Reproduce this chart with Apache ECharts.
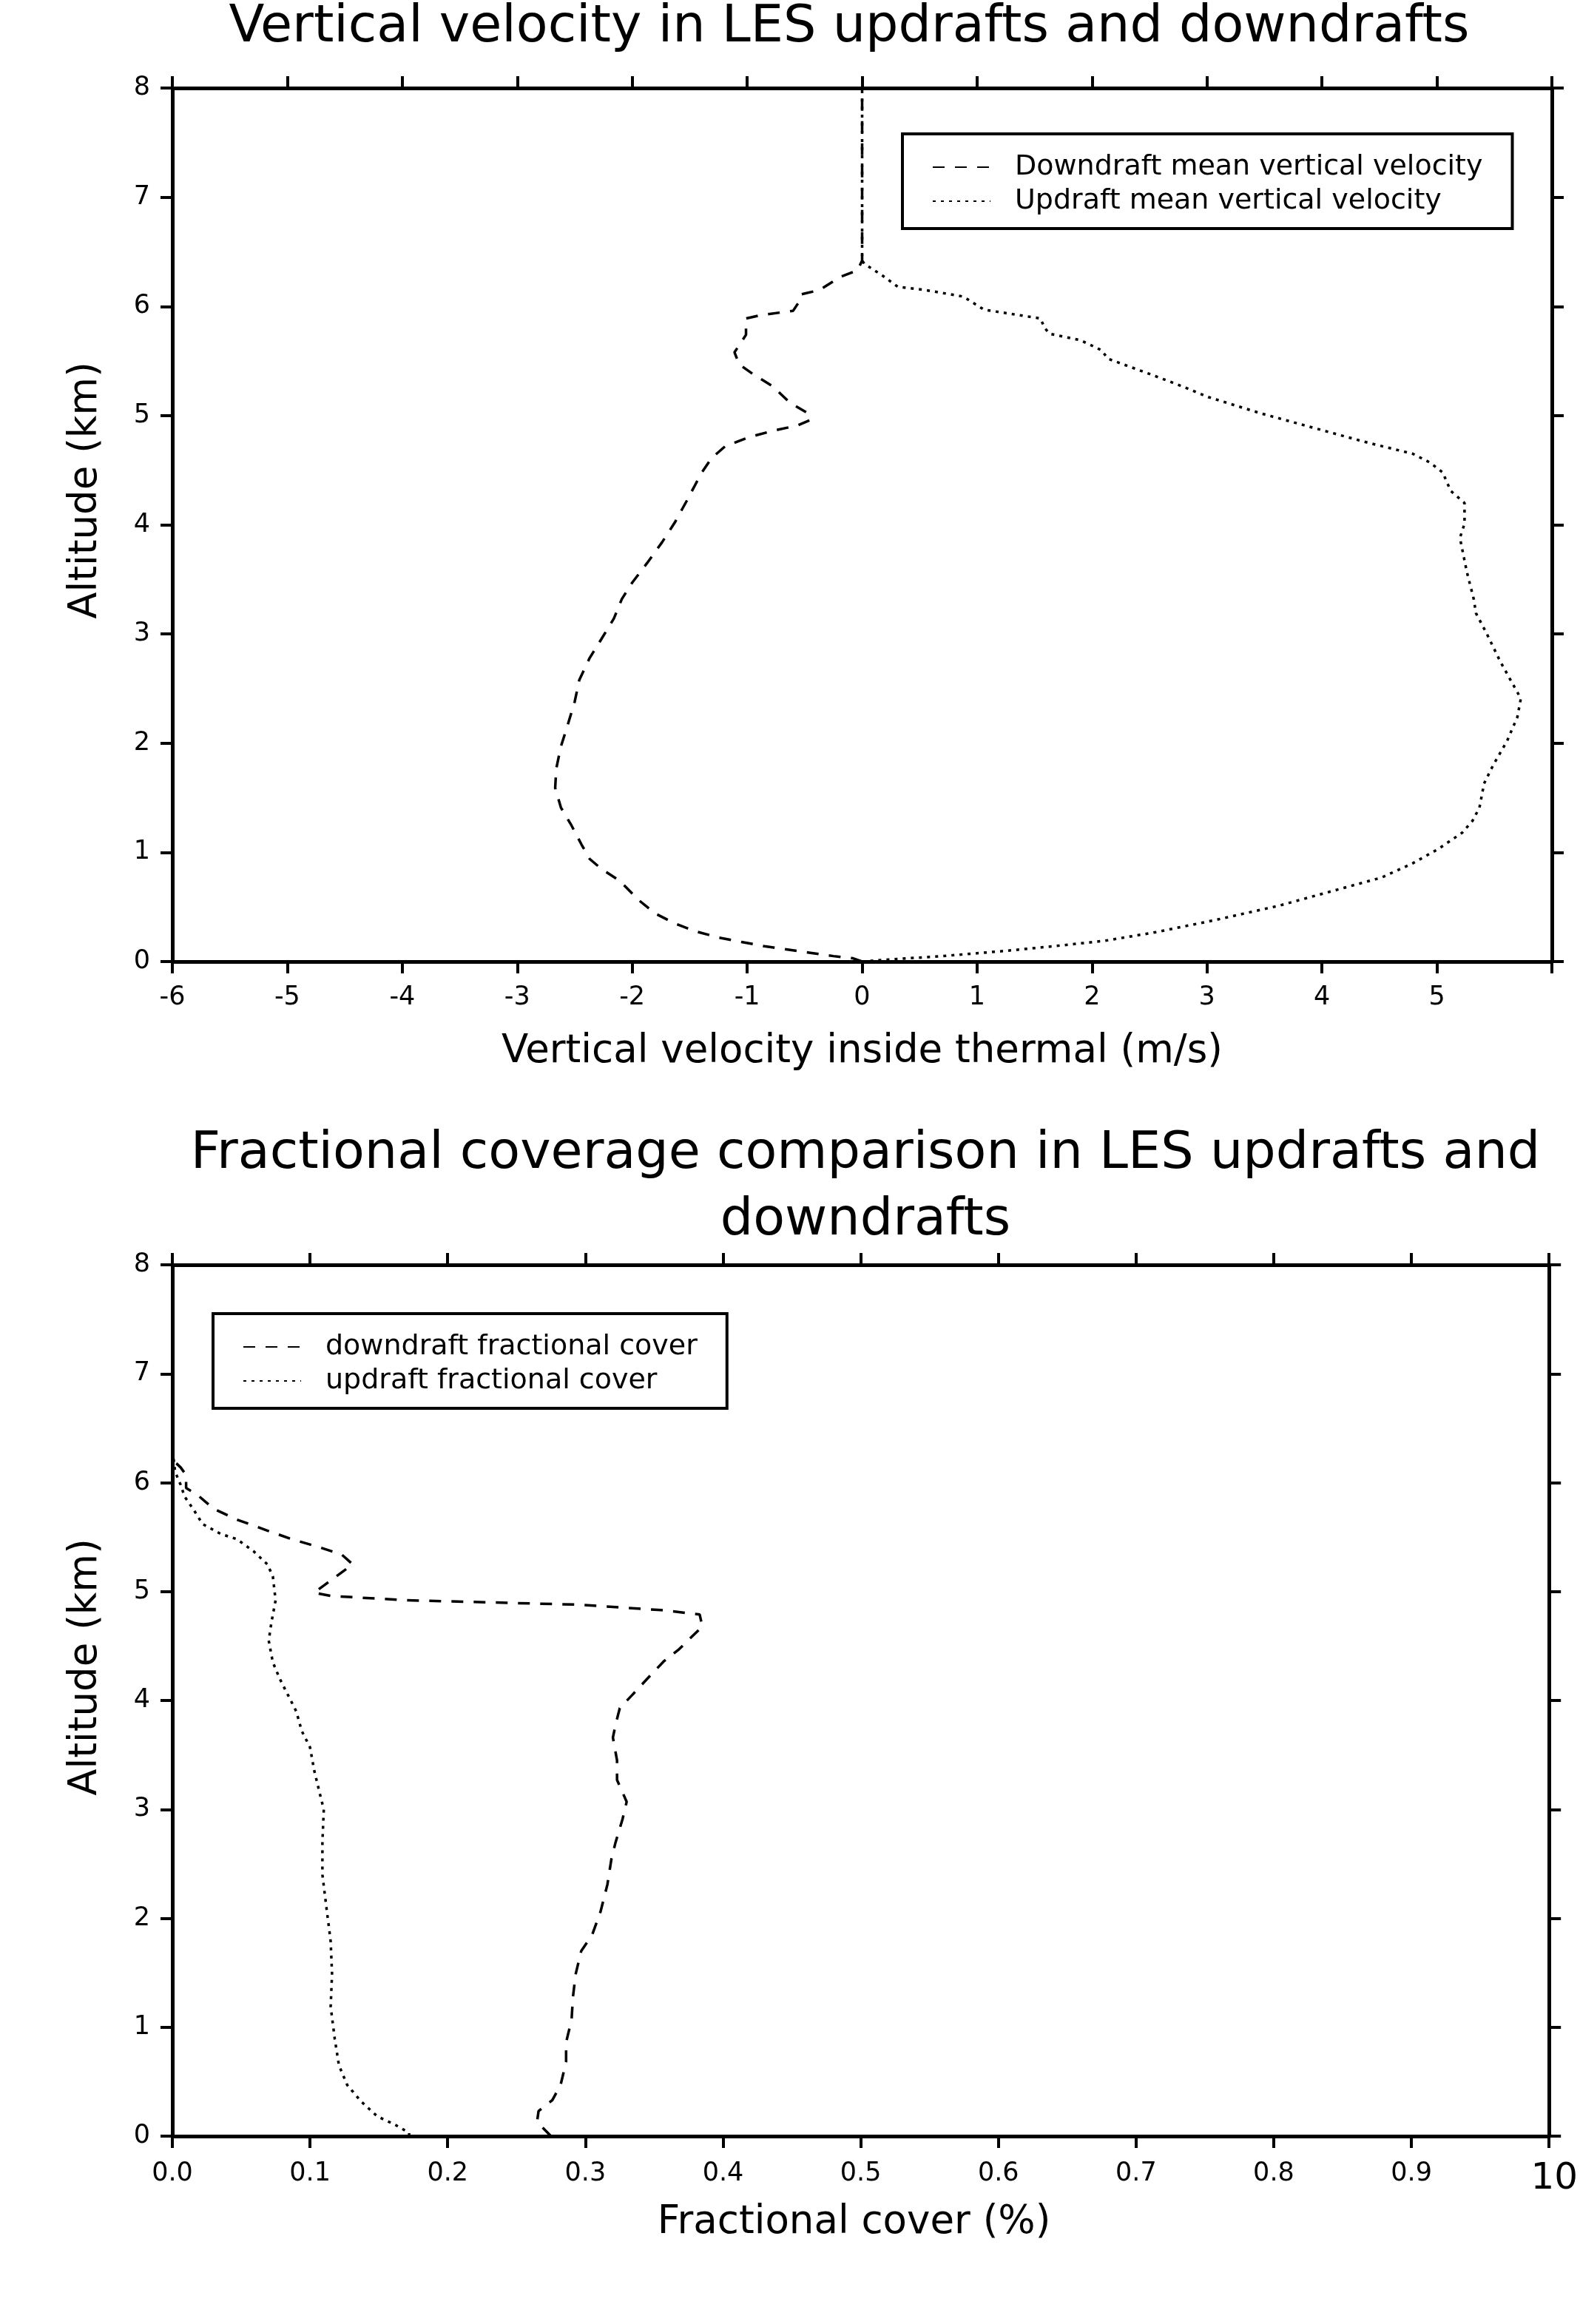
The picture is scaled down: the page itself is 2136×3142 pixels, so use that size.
<!DOCTYPE html>
<html><head><meta charset="utf-8">
<script src="https://cdn.jsdelivr.net/npm/echarts@6/dist/echarts.min.js"></script>
<style>html,body{margin:0;padding:0;background:#fff}#c{width:2136px;height:3142px}</style>
</head><body><div id="c"></div>
<script>
// ---- tick labels ----
const velTickLabels = ['-6','-5','-4','-3','-2','-1','0','1','2','3','4','5',''];
const fracTickLabels = ['0.0','0.1','0.2','0.3','0.4','0.5','0.6','0.7','0.8','0.9','10'];
const altTickLabels = ['0','1','2','3','4','5','6','7','8'];

// ---- top chart: vertical velocity (m/s) vs altitude (km) ----
const velDownAlt = [0.00,0.03,0.05,0.08,0.11,0.14,0.18,0.22,0.28,0.35,0.44,0.56,0.74,0.85,0.94,1.07,1.25,1.41,1.59,1.77,1.97,2.17,2.38,2.58,2.78,2.95,3.14,3.32,3.47,3.65,3.84,4.02,4.23,4.47,4.61,4.72,4.80,4.86,4.91,4.96,5.02,5.12,5.27,5.38,5.47,5.58,5.66,5.74,5.89,5.92,5.96,6.04,6.11,6.15,6.27,6.33,6.42,8.00];
const velDown    = [0.00,-0.08,-0.25,-0.45,-0.65,-0.85,-1.05,-1.25,-1.46,-1.63,-1.80,-1.94,-2.11,-2.27,-2.37,-2.44,-2.53,-2.62,-2.67,-2.66,-2.62,-2.56,-2.50,-2.46,-2.37,-2.27,-2.16,-2.09,-2.00,-1.87,-1.74,-1.63,-1.52,-1.40,-1.31,-1.19,-0.99,-0.78,-0.56,-0.45,-0.47,-0.63,-0.78,-0.95,-1.07,-1.11,-1.06,-1.01,-1.01,-0.88,-0.60,-0.55,-0.53,-0.37,-0.19,-0.04,0.00,0.00];
const velUpAlt = [0.00,0.02,0.05,0.10,0.14,0.19,0.27,0.38,0.51,0.64,0.77,0.90,1.03,1.18,1.29,1.41,1.63,1.80,2.02,2.24,2.41,2.56,2.75,3.01,3.19,3.32,3.57,3.88,4.01,4.20,4.31,4.48,4.57,4.65,4.76,4.89,5.02,5.17,5.27,5.37,5.52,5.60,5.69,5.75,5.80,5.89,5.97,6.03,6.09,6.15,6.18,6.28,6.39,6.42,8.00];
const velUp    = [0.00,0.25,0.70,1.27,1.66,2.11,2.56,3.07,3.62,4.07,4.52,4.79,5.01,5.22,5.31,5.37,5.41,5.49,5.61,5.70,5.73,5.65,5.55,5.43,5.34,5.32,5.26,5.20,5.24,5.24,5.12,5.05,4.94,4.79,4.37,3.92,3.47,3.01,2.78,2.53,2.14,2.08,1.90,1.63,1.59,1.55,1.06,0.97,0.88,0.55,0.31,0.18,0.02,0.00,0.00];

// ---- bottom chart: fractional cover vs altitude (km) ----
const fracDownAlt = [0.00,0.09,0.14,0.23,0.33,0.47,0.68,0.86,1.07,1.28,1.49,1.70,1.85,2.06,2.31,2.55,2.70,2.91,3.07,3.27,3.45,3.66,3.78,3.93,4.05,4.20,4.36,4.47,4.68,4.79,4.83,4.88,4.90,4.92,4.96,4.99,5.13,5.25,5.34,5.41,5.48,5.56,5.66,5.76,5.89,5.95,6.07,6.14,6.20,6.25,8.00];
const fracDown    = [0.275,0.268,0.265,0.266,0.276,0.282,0.286,0.286,0.290,0.291,0.293,0.297,0.305,0.311,0.316,0.319,0.322,0.327,0.330,0.323,0.323,0.320,0.322,0.325,0.334,0.345,0.357,0.368,0.385,0.383,0.355,0.294,0.232,0.170,0.115,0.103,0.118,0.131,0.123,0.106,0.087,0.069,0.047,0.030,0.018,0.010,0.010,0.006,0.001,0.000,0.000];
const fracUpAlt = [0.00,0.03,0.11,0.18,0.32,0.47,0.65,0.89,1.19,1.49,1.79,2.09,2.40,2.70,3.00,3.15,3.36,3.57,3.72,3.90,4.05,4.20,4.35,4.55,4.72,4.92,5.14,5.25,5.37,5.48,5.53,5.62,5.76,5.87,5.98,6.10,6.21,6.25,8.00];
const fracUp    = [0.172,0.172,0.161,0.149,0.137,0.127,0.121,0.118,0.115,0.116,0.115,0.112,0.109,0.109,0.110,0.107,0.103,0.100,0.094,0.090,0.084,0.078,0.073,0.070,0.072,0.075,0.073,0.069,0.059,0.047,0.035,0.022,0.015,0.009,0.006,0.002,0.001,0.000,0.000];

const F = 'DejaVu Sans';
function pairs(xs, ys) { return xs.map((x, i) => [x, ys[i]]); }

function axis(kind, gridIndex, position, min, max, interval, labels, showLabels, margin) {
  return {
    type: 'value', gridIndex, position, min, max, interval,
    axisLine: { show: true, onZero: false, lineStyle: { color: '#000', width: 5 } },
    axisTick: { show: true, inside: false, length: 16, lineStyle: { color: '#000', width: 4 } },
    splitLine: { show: false },
    axisLabel: { show: showLabels, color: '#000', fontFamily: F, fontSize: 35, margin: margin,
      formatter: v => labels[Math.round((v - min) / interval)] }
  };
}

const xAxes = [
  axis('x', 0, 'bottom', -6, 6, 1, velTickLabels, true, 31),
  axis('x', 0, 'top', -6, 6, 1, velTickLabels, false, 28),
  axis('x', 1, 'bottom', 0, 1, 0.1, fracTickLabels, true, 33),
  axis('x', 1, 'top', 0, 1, 0.1, fracTickLabels, false, 28)
];
xAxes[2].axisLabel.formatter = v => {
  const i = Math.round(v / 0.1);
  return i === 10 ? '{big|' + fracTickLabels[i] + '}' : fracTickLabels[i];
};
xAxes[2].axisLabel.rich = { big: { fontSize: 50, fontFamily: F, color: '#000', padding: [0, 0, 0, 14] } };
xAxes[0].name = 'Vertical velocity inside thermal (m/s)';
xAxes[0].nameLocation = 'middle';
xAxes[0].nameGap = 96;
xAxes[0].nameTextStyle = { fontSize: 53, fontFamily: F, color: '#000' };
xAxes[2].name = 'Fractional cover (%)';
xAxes[2].nameLocation = 'middle';
xAxes[2].nameGap = 91;
xAxes[2].nameTextStyle = { fontSize: 53, fontFamily: F, color: '#000', padding: [0, 18, 0, 0] };

const yAxes = [
  axis('y', 0, 'left', 0, 8, 1, altTickLabels, true, 30),
  axis('y', 0, 'right', 0, 8, 1, altTickLabels, false, 28),
  axis('y', 1, 'left', 0, 8, 1, altTickLabels, true, 30),
  axis('y', 1, 'right', 0, 8, 1, altTickLabels, false, 28)
];

const dashed = [16, 14];
const dotted = [4, 7];
function line(name, xi, yi, data, dash) {
  return { type: 'line', name, xAxisIndex: xi, yAxisIndex: yi, data, symbol: 'none', showSymbol: false,
    lineStyle: { color: '#000', width: 3.5, type: dash }, itemStyle: { color: '#000' }, animation: false };
}

function legend(names, left, top) {
  return {
    data: names, left, top, orient: 'vertical', itemWidth: 78, itemHeight: 14, itemGap: 8,
    padding: [26, 40, 18, 40], borderColor: '#000', borderWidth: 4, backgroundColor: '#fff',
    selectedMode: false,
    itemStyle: { opacity: 0 },
    formatter: n => '{t|' + n + '}',
    textStyle: { color: '#000', fontFamily: F, fontSize: 38, rich: { t: { fontSize: 38, fontFamily: F, color: '#000', padding: [0, 0, 0, 28] } } }
  };
}

const chart = echarts.init(document.getElementById('c'), null, { renderer: 'canvas' });
chart.setOption({
  backgroundColor: '#fff',
  animation: false,
  title: [
    { text: 'Vertical velocity in LES updrafts and downdrafts', left: 1143, top: -2, textAlign: 'center',
      textStyle: { fontSize: 70, fontWeight: 'normal', fontFamily: F, color: '#000' } },
    { text: 'Fractional coverage comparison in LES updrafts and\ndowndrafts', left: 1165, top: 1511, textAlign: 'center',
      textStyle: { fontSize: 70, fontWeight: 'normal', fontFamily: F, color: '#000', lineHeight: 90 } }
  ],
  grid: [
    { left: 233, width: 1865, top: 119, height: 1181 },
    { left: 233, width: 1865, top: 1710, height: 1178 }
  ],
  xAxis: xAxes,
  yAxis: yAxes,
  legend: [
    legend(['Downdraft mean vertical velocity', 'Updraft mean vertical velocity'], 1220, 181),
    legend(['downdraft fractional cover', 'updraft fractional cover'], 288, 1776)
  ],
  graphic: [
    { type: 'text', x: 116, y: 663, rotation: Math.PI / 2,
      style: { text: 'Altitude (km)', fontSize: 53, fontFamily: F, fill: '#000', align: 'center', verticalAlign: 'middle' } },
    { type: 'text', x: 116, y: 2254, rotation: Math.PI / 2,
      style: { text: 'Altitude (km)', fontSize: 53, fontFamily: F, fill: '#000', align: 'center', verticalAlign: 'middle' } }
  ],
  series: [
    line('Downdraft mean vertical velocity', 0, 0, pairs(velDown, velDownAlt), dashed),
    line('Updraft mean vertical velocity', 0, 0, pairs(velUp, velUpAlt), dotted),
    line('downdraft fractional cover', 2, 2, pairs(fracDown, fracDownAlt), dashed),
    line('updraft fractional cover', 2, 2, pairs(fracUp, fracUpAlt), dotted)
  ]
});
</script></body></html>
